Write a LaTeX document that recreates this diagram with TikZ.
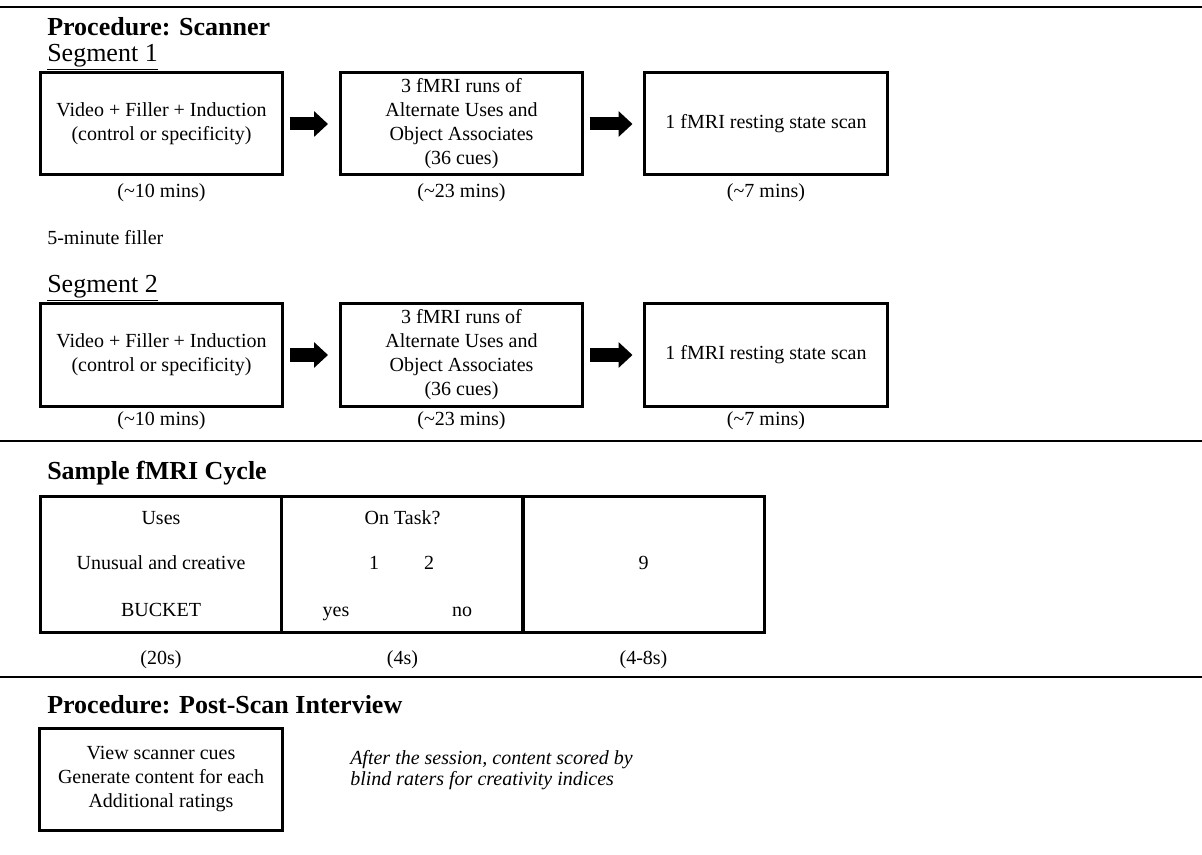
\documentclass[tikz,border=0pt]{standalone}
\usepackage{fontspec}
\setmainfont{Liberation Serif}
\usepackage{tikz}
\usetikzlibrary{arrows.meta}

\tikzset{
  procbox/.style={draw, line width=2.25pt, minimum width=182pt, minimum height=76.5pt, align=center, inner sep=0pt, font=\fontsize{15}{18}\selectfont},
  cyclebox/.style={draw, line width=2.25pt, minimum width=181pt, minimum height=102pt, inner sep=0pt},
  heading/.style={anchor=west, inner sep=0pt, font=\fontsize{19.5}{23}\selectfont\bfseries},
  seglabel/.style={anchor=west, inner sep=0pt, font=\fontsize{19.5}{23}\selectfont},
  txt/.style={inner sep=0pt, text height=10.5pt, text depth=3.5pt, font=\fontsize{15}{18}\selectfont},
  blockarrow/.style={line width=9.75pt, -{Triangle[width=18.75pt,length=10.5pt]}, shorten <=4pt, shorten >=8pt},
  rule/.style={line width=1.5pt}
}

\begin{document}
\begin{tikzpicture}[x=0.75pt,y=-0.75pt]
\useasboundingbox (0,0) rectangle (1202,855);
% draw horizontal rules
\draw[rule] (0,7) -- (1202,7);
\draw[rule] (0,441) -- (1202,441);
\draw[rule] (0,677) -- (1202,677);

% scanner procedure
\node[heading] (scanhead) at (47,27) {Procedure: Scanner};
\node[seglabel] (segone) at (47,57) {\underline{Segment 1}};

% first segment
\node[procbox] (videoA) at (161.5,124) {Video + Filler + Induction\\(control or specificity)};
\node[procbox] (runsA) at (461.5,124) {3 fMRI runs of\\Alternate Uses and\\Object Associates\\(36 cues)};
\node[procbox] (restA) at (766,124) {1 fMRI resting state scan};
\draw[blockarrow] (videoA) -- (runsA);
\draw[blockarrow] (runsA) -- (restA);
\node[txt] (timeA1) at (161.5,193) {(\textasciitilde10 mins)};
\node[txt] (timeA2) at (461.5,193) {(\textasciitilde23 mins)};
\node[txt] (timeA3) at (766,193) {(\textasciitilde7 mins)};

\node[txt, anchor=west] (filler) at (47,240) {5-minute filler};
\node[seglabel] (segtwo) at (47,288) {\underline{Segment 2}};

% second segment
\node[procbox] (videoB) at (161.5,355) {Video + Filler + Induction\\(control or specificity)};
\node[procbox] (runsB) at (461.5,355) {3 fMRI runs of\\Alternate Uses and\\Object Associates\\(36 cues)};
\node[procbox] (restB) at (766,355) {1 fMRI resting state scan};
\draw[blockarrow] (videoB) -- (runsB);
\draw[blockarrow] (runsB) -- (restB);
\node[txt] (timeB1) at (161.5,421) {(\textasciitilde10 mins)};
\node[txt] (timeB2) at (461.5,421) {(\textasciitilde23 mins)};
\node[txt] (timeB3) at (766,421) {(\textasciitilde7 mins)};

% sample cycle
\node[heading] (cyclehead) at (47,473) {Sample fMRI Cycle};
\node[cyclebox] (cueA) at (161,564) {};
\node[cyclebox] (taskA) at (402.5,564) {};
\node[cyclebox] (fixA) at (643.5,564) {};
\node[txt] (uses) at (161,520) {Uses};
\node[txt] (unusual) at (161,565) {Unusual and creative};
\node[txt] (bucket) at (161,612) {BUCKET};
\node[txt] (ontask) at (402.5,520) {On Task?};
\node[txt] (one) at (374,565) {1};
\node[txt] (two) at (429,565) {2};
\node[txt] (yes) at (336,612) {yes};
\node[txt] (no) at (462,612) {no};
\node[txt] (nine) at (643.5,565) {9};
\node[txt] (dur1) at (161,660) {(20s)};
\node[txt] (dur2) at (402.5,660) {(4s)};
\node[txt] (dur3) at (643.5,660) {(4-8s)};

% post-scan interview
\node[heading] (posthead) at (47,705) {Procedure: Post-Scan Interview};
\node[procbox] (interview) at (161,779) {View scanner cues\\Generate content for each\\Additional ratings};
\node[txt, text height=, text depth=, anchor=west, align=left, font=\fontsize{15}{16}\selectfont\itshape] (scoring) at (350,770) {After the session, content scored by\\blind raters for creativity indices};
\end{tikzpicture}
\end{document}
